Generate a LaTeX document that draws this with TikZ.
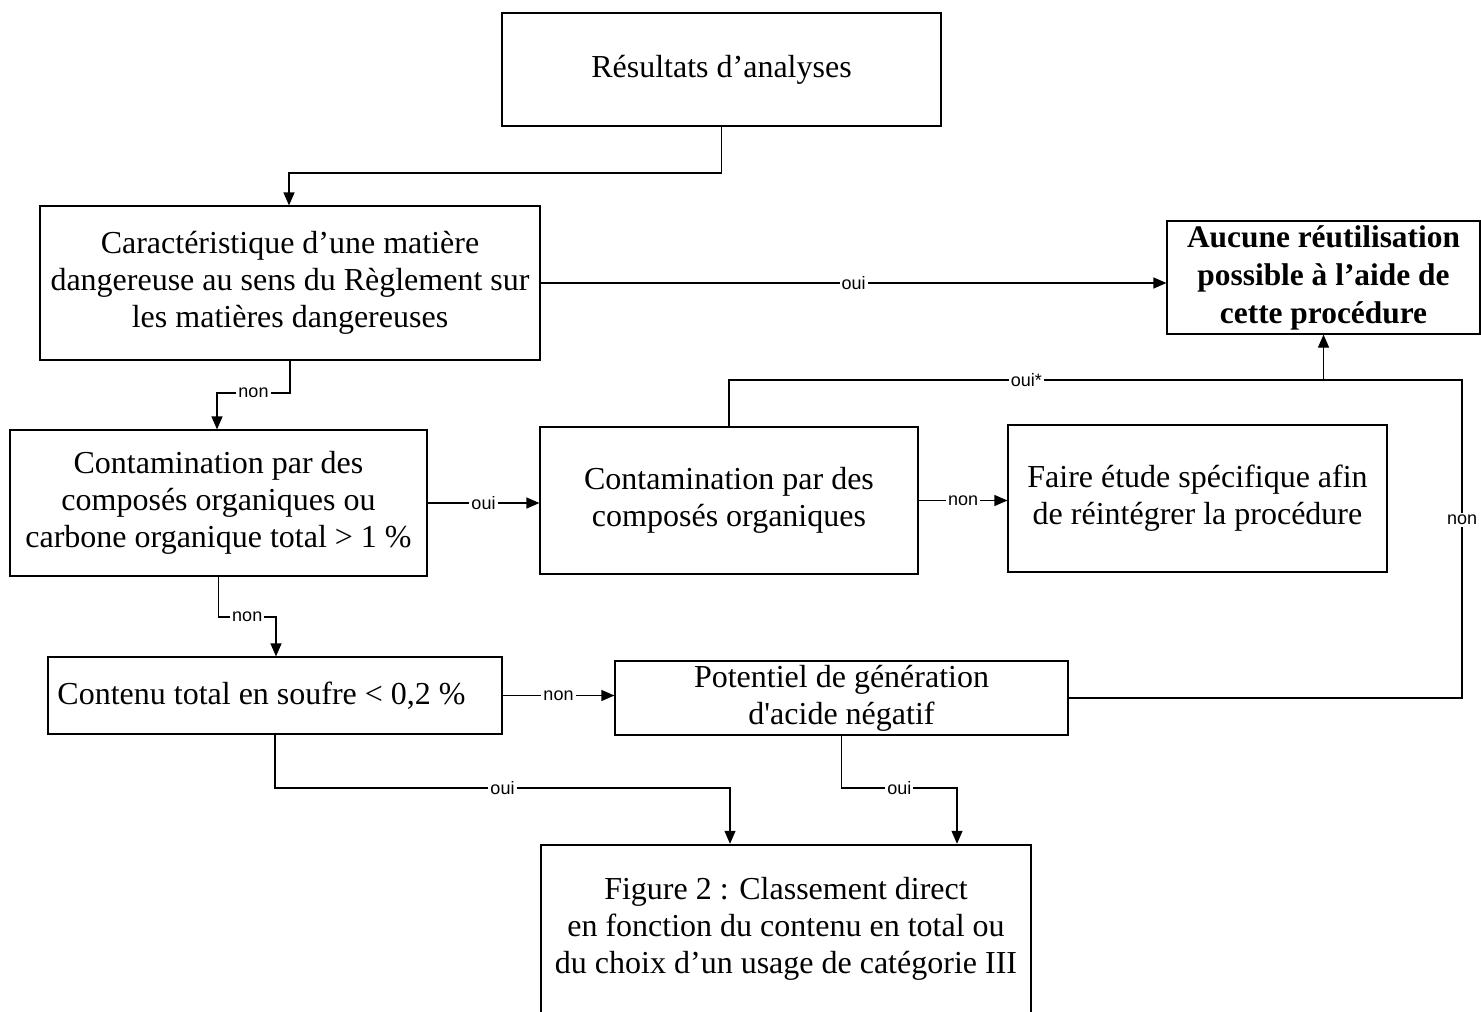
\documentclass[tikz,border=0pt]{standalone}
\usepackage{fontspec}
\setmainfont{Liberation Serif}
\newfontfamily\labfont{Liberation Sans}
\usetikzlibrary{arrows.meta,calc}
\begin{document}
\begin{tikzpicture}[x=0.5pt,y=-0.5pt,
  box/.style={draw=black,line width=0.6pt,align=center,inner sep=0pt,
    font=\fontsize{16pt}{18.6pt}\selectfont},
  boldbox/.style={box,font=\fontsize{15.7pt}{19pt}\selectfont\bfseries},
  bigbox/.style={draw=black,line width=1.2pt},
  lab/.style={fill=white,inner sep=1pt,font=\labfont\fontsize{9pt}{10pt}\selectfont},
  con/.style={draw=black,line width=0.6pt},
  arr/.style={con,-{Triangle[length=6.5pt,width=5.5pt]}}]
\useasboundingbox (0,0) rectangle (1481,1011);
% boxes
\node[box,minimum width=219.5pt,minimum height=56.5pt] (b1) at (721.5,69.5) {Résultats d’analyses};
\node[box,minimum width=250pt,minimum height=77pt] (b2) at (290,283) {Caractéristique d’une matière\\dangereuse au sens du Règlement sur\\les matières dangereuses};
\node[boldbox,minimum width=156.5pt,minimum height=56.5pt] (bA) at (1323.5,277.5) {Aucune réutilisation\\possible à l’aide de\\cette procédure};
\node[box,minimum width=208.5pt,minimum height=73pt] (b3) at (218.5,503) {Contamination par des\\composés organiques ou\\carbone organique total > 1 \%};
\node[box,minimum width=189pt,minimum height=73.5pt] (b4) at (729,500.5) {Contamination par des\\composés organiques};
\node[box,minimum width=189.5pt,minimum height=73.5pt] (b5) at (1197.5,498.5) {Faire étude spécifique afin\\de réintégrer la procédure};
\node[box,minimum width=227pt,minimum height=38.5pt] (b6) at (275,695.5) {Contenu total en soufre < 0,2 \%\hspace*{13.5pt}};
\node[box,minimum width=226.5pt,minimum height=37pt] (b7) at (841.5,698) {Potentiel de génération\\d\textquotesingle acide négatif};
\node[bigbox,minimum width=245pt,minimum height=90pt] (fig) at (786,935) {};
\node[box,draw=none] (figtext) at (786,929) {Figure 2 : Classement direct\\en fonction du contenu en total ou\\du choix d’un usage de catégorie III};
% elbow coordinates
\coordinate (e1) at (289,173);
\coordinate (e2) at (217,393);
\coordinate (e3) at (728,380);
\coordinate (e4) at (276,617);
\coordinate (e5) at (1462,380);
\coordinate (e6) at (730,788);
\coordinate (e7) at (957,788);
% connectors
\draw[arr] (b1.south) |- (e1) -- (e1 |- b2.north);
\draw[arr] (b2.east) -- node[lab,pos=0.5]{oui} (bA.west |- b2.east);
\draw[arr] (b2.south) |- node[lab,pos=0.75]{non} (e2) -- (e2 |- b3.north);
\draw[arr] (b3.east) -- node[lab]{oui} (b4.west |- b3.east);
\draw[arr] (b4.east) -- node[lab]{non} (b5.west |- b4.east);
\draw[arr] (b4.north) |- node[lab,pos=0.75]{oui*} (bA.south |- e3) -- (bA.south);
\draw[con] (b7.east) -| node[lab,pos=0.78]{non} (e5) -- (bA.south |- e3);
\draw[arr] (b3.south) |- node[lab,pos=0.75]{non} (e4) -- (e4 |- b6.north);
\draw[arr] (b6.east) -- node[lab]{non} (b7.west |- b6.east);
\draw[arr] (b6.south) |- node[lab,pos=0.75]{oui} (e6) -- (e6 |- fig.north);
\draw[arr] (b7.south) |- node[lab,pos=0.75]{oui} (e7) -- (e7 |- fig.north);
\end{tikzpicture}
\end{document}
